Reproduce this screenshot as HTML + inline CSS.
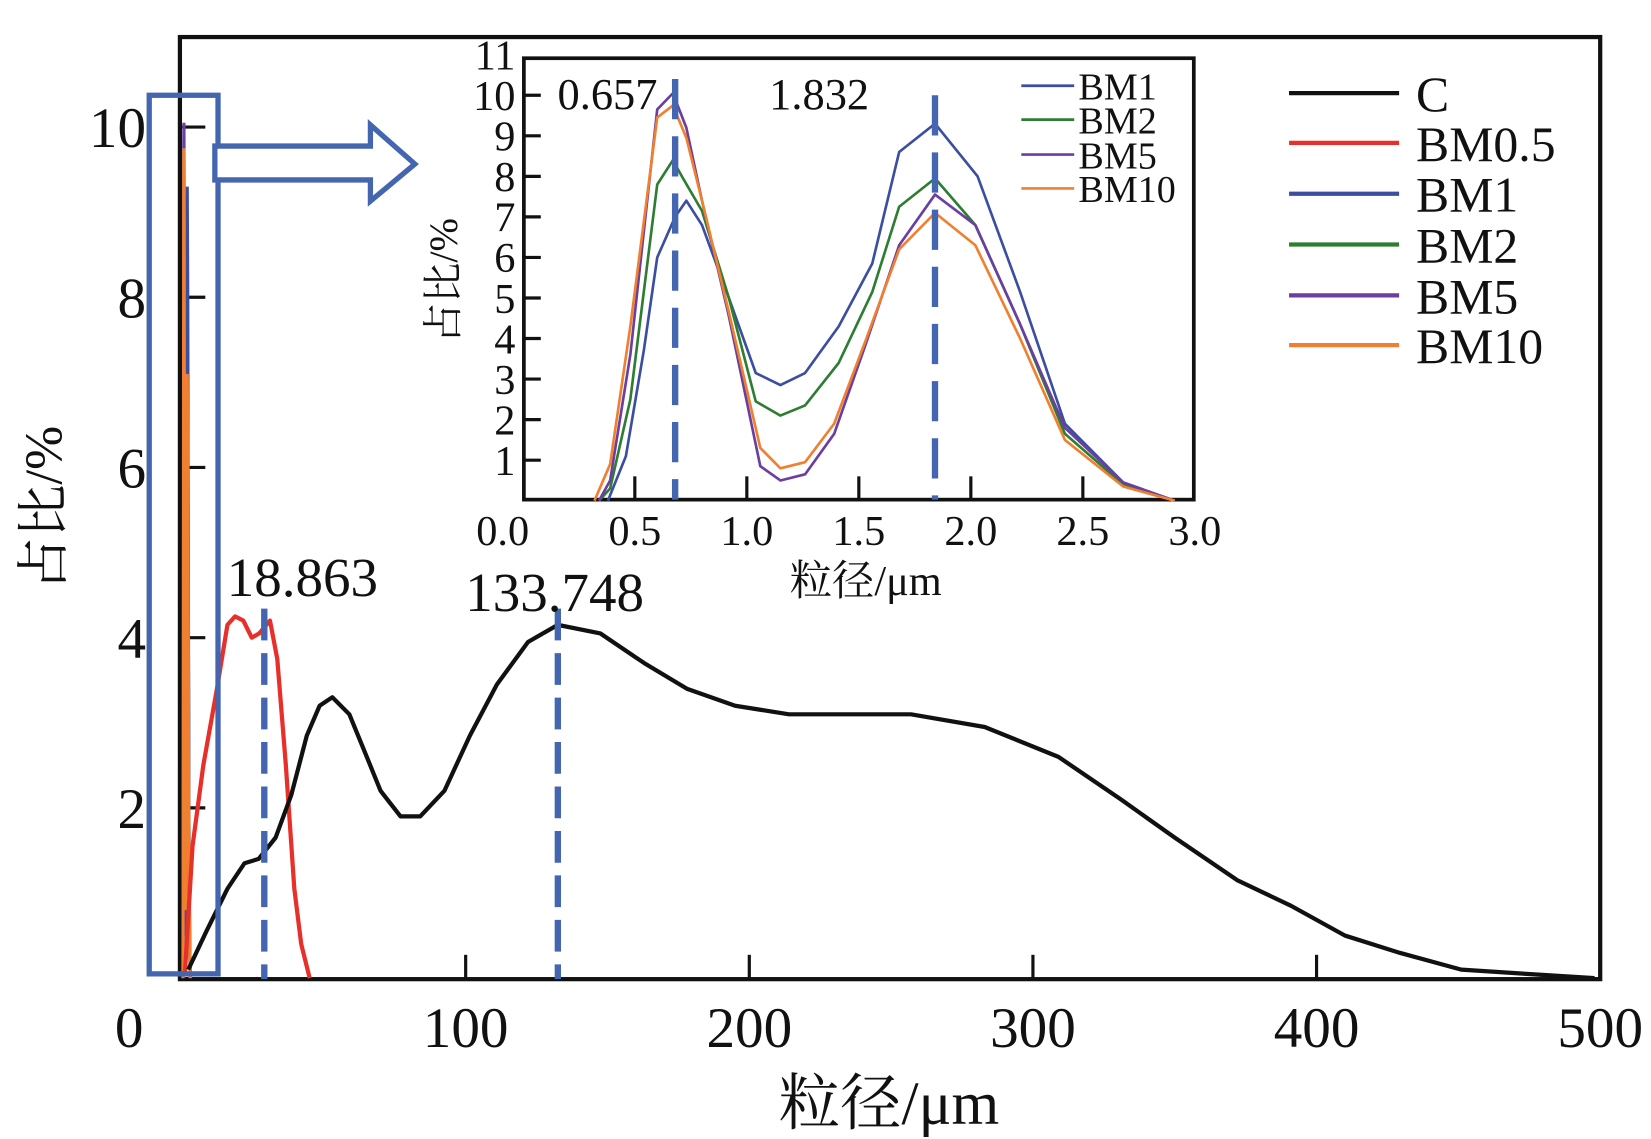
<!DOCTYPE html>
<html><head><meta charset="utf-8"><style>
html,body{margin:0;padding:0;background:#fff;}
svg{display:block;}
text{font-family:"Liberation Serif","Noto Serif CJK SC",serif;fill:#111;}
</style></head><body>
<svg id="chart" width="1651" height="1139" viewBox="0 0 1560 1076" preserveAspectRatio="none" xmlns="http://www.w3.org/2000/svg"></svg>
<script>
// ---- main chart data ----
const cX = [2.2,8.6,16,22,27,33,38.5,44,48.5,53,59,64.5,70,77,84,92.5,101.5,111,122,132.5,147.5,163,178,195,214,234,257,283,309,331,350,372,391,410,429,451,474,498];
const cY = [0.1,0.55,1.05,1.35,1.4,1.65,2.15,2.85,3.2,3.3,3.1,2.65,2.2,1.9,1.9,2.2,2.85,3.45,3.95,4.15,4.05,3.7,3.4,3.2,3.1,3.1,3.1,2.95,2.6,2.1,1.65,1.15,0.85,0.5,0.3,0.1,0.05,0];
const rX = [1,3.7,7.5,12.3,16,18.7,21.6,24.6,27.2,31,33.6,36.6,39.6,42,45];
const rY = [0.05,1.55,2.5,3.4,4.15,4.25,4.2,4.0,4.05,4.2,3.75,2.5,1.05,0.4,0];
const mainXTicks = [0,100,200,300,400,500];
const mainYTicks = [2,4,6,8,10];
const mainPeaks = [29,132.5];
const mainPeakLabels = ["18.863","133.748"];
// ---- inset data (x in μm) ----
const b1X = [0.38,0.46,0.54,0.6,0.68,0.73,0.8,0.92,1.04,1.15,1.26,1.41,1.56,1.68,1.84,2.03,2.22,2.42,2.68,2.91];
const b1Y = [0,1.1,3.7,6.0,7.0,7.4,6.8,5.0,3.15,2.85,3.15,4.3,5.85,8.6,9.3,8.0,5.15,1.9,0.45,0];
const b2X = [0.34,0.39,0.48,0.6,0.67,0.71,0.8,0.92,1.04,1.15,1.26,1.41,1.56,1.68,1.84,2.02,2.22,2.42,2.68,2.91];
const b2Y = [0,0.3,2.5,7.8,8.4,8.0,7.15,5.0,2.45,2.1,2.35,3.4,5.15,7.25,7.95,6.8,4.35,1.65,0.4,0];
const b5X = [0.34,0.39,0.48,0.6,0.67,0.73,0.8,0.92,1.06,1.15,1.26,1.39,1.53,1.68,1.84,2.02,2.22,2.42,2.68,2.91];
const b5Y = [0,0.5,3.6,9.65,10.05,9.2,7.4,4.55,0.85,0.5,0.65,1.65,3.85,6.3,7.55,6.8,4.35,1.8,0.45,0];
const b10X = [0.32,0.39,0.48,0.6,0.67,0.73,0.8,0.92,1.06,1.15,1.26,1.39,1.53,1.68,1.84,2.02,2.22,2.42,2.68,2.91];
const b10Y = [0,0.9,4.3,9.45,9.75,8.95,7.4,4.65,1.3,0.8,0.95,1.9,3.95,6.2,7.1,6.3,4.0,1.5,0.35,0];
const insetXTicks = [0,0.5,1,1.5,2,2.5,3];
const insetXTickLabels = ["0.0","0.5","1.0","1.5","2.0","2.5","3.0"];
const insetYTicks = [1,2,3,4,5,6,7,8,9,10,11];
const insetPeaks = [0.68,1.84];
const insetPeakTop = [10.4,10.0];
const insetPeakLabels = ["0.657","1.832"];
const legendMain = ["C","BM0.5","BM1","BM2","BM5","BM10"];
const legendInset = ["BM1","BM2","BM5","BM10"];

const COL = {C:"#111",BM05:"#e8302a",BM1:"#3b4ea0",BM2:"#2d7d32",BM5:"#6a3fa0",BM10:"#f08030"};
const DASH = "#4466b0";
const svg = document.getElementById('chart');
const NS = "http://www.w3.org/2000/svg";
function mk(tag, attrs, parent){const e=document.createElementNS(NS,tag);for(const k in attrs)e.setAttribute(k,attrs[k]);(parent||svg).appendChild(e);return e;}

const mx = v => 172 + v*(1512-172)/500;
const my = v => 924 - v*80.4;
const ix = v => 494 + v*(1129-494)/3;
const iy = v => 473 - v*38.3;

function path(xs,ys,fx,fy){return xs.map((x,i)=>(i?'L':'M')+fx(x).toFixed(1)+','+fy(ys[i]).toFixed(1)).join(' ');}

// ---- main plot ----
const g = mk('g',{});


const frame = mk('rect',{x:170,y:35,width:1342,height:890,fill:'none',stroke:'#111','stroke-width':4},g);


mainXTicks.forEach(t=>{
  if(t>0&&t<500){const l=mk('line',{x1:mx(t),x2:mx(t),y1:925,y2:902,stroke:'#111','stroke-width':3},g);
  
  }
  const tx=mk('text',{x:t===0?122:mx(t),y:989,'font-size':54,'text-anchor':'middle'},g);tx.textContent=t;
  
  
});
mainYTicks.forEach(t=>{
  const l=mk('line',{x1:170,x2:194,y1:my(t),y2:my(t),stroke:'#111','stroke-width':3},g);
  
  
  const tx=mk('text',{x:138,y:my(t)+19,'font-size':54,'text-anchor':'end'},g);tx.textContent=t;
  
  
});
const xt=mk('text',{x:840,y:1062,'font-size':58,'text-anchor':'middle'},g);xt.textContent='粒径/μm';


const yt=mk('text',{x:0,y:0,'font-size':50,'text-anchor':'middle',transform:'translate(58,480) rotate(-90)'},g);yt.textContent='占比/%';



[[b5X,b5Y,COL.BM5],[b2X,b2Y,COL.BM2],[b1X,b1Y,COL.BM1],[b10X,b10Y,COL.BM10]].forEach(s=>{
  const p=mk('path',{d:path(s[0],s[1],mx,my),fill:'none',stroke:s[2],'stroke-width':3},g);
  
  
});
const pr=mk('path',{d:path(rX,rY,mx,my),fill:'none',stroke:COL.BM05,'stroke-width':4,'stroke-linejoin':'round'},g);


const pc=mk('path',{d:path(cX,cY,mx,my),fill:'none',stroke:COL.C,'stroke-width':4,'stroke-linejoin':'round'},g);


mainPeaks.forEach((p,i)=>{
  const l=mk('line',{x1:mx(p),x2:mx(p),y1:575,y2:925,stroke:DASH,'stroke-width':6,'stroke-dasharray':'30 12'},g);
  
  
  const t=mk('text',{x:mx(p)+(i?-3:36),y:i?577:563,'font-size':52,'text-anchor':'middle'},g);t.textContent=mainPeakLabels[i];
  
  
});
const hb=mk('rect',{x:141,y:90,width:65,height:830,fill:'none',stroke:DASH,'stroke-width':5});


const ar=mk('path',{d:'M203,138 L350,138 L350,118 L392,155 L350,190 L350,170 L203,170 Z',fill:'#fff',stroke:DASH,'stroke-width':5,'stroke-linejoin':'miter'});



const mainLegCols=[COL.C,COL.BM05,COL.BM1,COL.BM2,COL.BM5,COL.BM10];
const mainLegY=[88,135,183,231,279,326];
legendMain.forEach((n,i)=>{
  const l=mk('line',{x1:1218,x2:1322,y1:mainLegY[i],y2:mainLegY[i],stroke:mainLegCols[i],'stroke-width':4});
  
  
  const t=mk('text',{x:1338,y:mainLegY[i]+17,'font-size':47});t.textContent=n;
  
  
});

// ---- inset ----
const gi=mk('g',{});


const ifr=mk('rect',{x:495,y:55,width:633,height:417,fill:'#fff',stroke:'#111','stroke-width':3.5},gi);


insetXTicks.forEach((t,i)=>{
  if(t>0&&t<3){const l=mk('line',{x1:ix(t),x2:ix(t),y1:472,y2:450,stroke:'#111','stroke-width':3},gi);
  
  }
  const tx=mk('text',{x:i===0?475:ix(t),y:515,'font-size':40,'text-anchor':'middle'},gi);tx.textContent=insetXTickLabels[i];
  
  
});
insetYTicks.forEach(t=>{
  if(t<11){const l=mk('line',{x1:495,x2:511,y1:iy(t),y2:iy(t),stroke:'#111','stroke-width':3},gi);
  
  }
  const tx=mk('text',{x:487,y:iy(t)+14,'font-size':40,'text-anchor':'end'},gi);tx.textContent=t;
  
  
});
const ixt=mk('text',{x:818,y:562,'font-size':40,'text-anchor':'middle'},gi);ixt.textContent='粒径/μm';


const iyt=mk('text',{x:0,y:0,'font-size':38,'text-anchor':'middle',transform:'translate(432,265) rotate(-90)'},gi);iyt.textContent='占比/%';


[[b1X,b1Y,COL.BM1,'inset-series-bm1'],[b2X,b2Y,COL.BM2,'inset-series-bm2'],[b5X,b5Y,COL.BM5,'inset-series-bm5'],[b10X,b10Y,COL.BM10,'inset-series-bm10']].forEach(s=>{
  const p=mk('path',{d:path(s[0],s[1],ix,iy),fill:'none',stroke:s[2],'stroke-width':2.5,'stroke-linejoin':'round'},gi);
  
  
});
insetPeaks.forEach((p,i)=>{
  const l=mk('line',{x1:ix(p),x2:ix(p),y1:iy(insetPeakTop[i]),y2:472,stroke:DASH,'stroke-width':6,'stroke-dasharray':'38 16'},gi);
  
  
  const t=mk('text',{x:i?774:574,y:103,'font-size':42,'text-anchor':'middle'},gi);t.textContent=insetPeakLabels[i];
  
  
});
const insLegCols=[COL.BM1,COL.BM2,COL.BM5,COL.BM10];
const insLegY=[81,113,146,178];
legendInset.forEach((n,i)=>{
  const l=mk('line',{x1:965,x2:1015,y1:insLegY[i],y2:insLegY[i],stroke:insLegCols[i],'stroke-width':2.5},gi);
  
  
  const t=mk('text',{x:1019,y:insLegY[i]+13,'font-size':36},gi);t.textContent=n;
  
  
});
</script>
</body></html>
